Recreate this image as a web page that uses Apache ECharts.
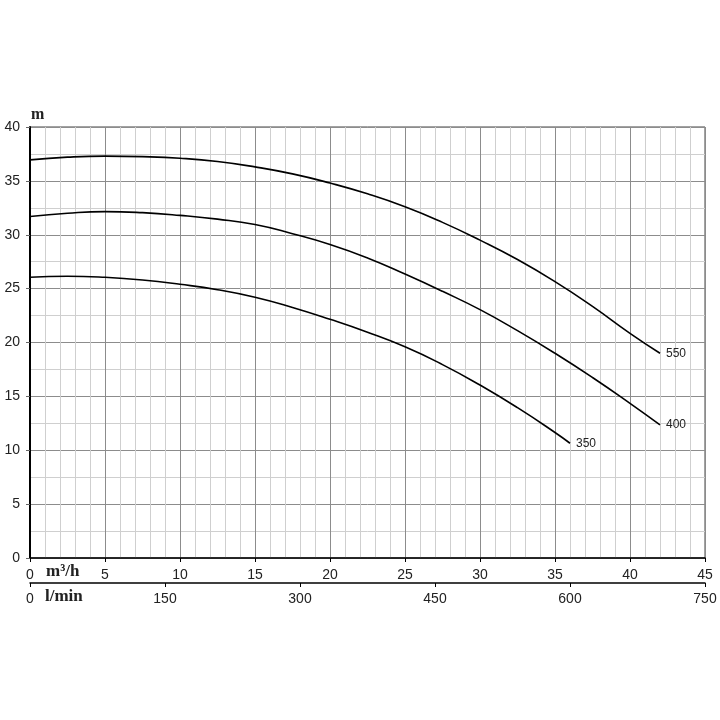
<!DOCTYPE html>
<html>
<head>
<meta charset="utf-8">
<script src="https://cdn.jsdelivr.net/npm/echarts@6/dist/echarts.min.js"></script>
<style>html,body{margin:0;padding:0;background:#fff}#c{width:720px;height:720px}</style>
</head>
<body>
<div id="c"></div>
<script>
var flow550 = [0, 2.5, 5, 7.5, 10, 12.5, 15, 17.5, 20, 22.5, 25, 27.5, 30, 32.5, 35, 37.5, 40, 42];
var head550 = [36.95, 37.2, 37.3, 37.25, 37.1, 36.8, 36.3, 35.65, 34.8, 33.8, 32.6, 31.15, 29.5, 27.7, 25.65, 23.35, 20.85, 19.0];
var flow400 = [0, 2.5, 5, 7.5, 10, 12.5, 15, 17.5, 20, 22.5, 25, 27.5, 30, 32.5, 35, 37.5, 40, 42];
var head400 = [31.7, 32.0, 32.15, 32.05, 31.8, 31.45, 30.95, 30.1, 29.1, 27.85, 26.35, 24.75, 23.05, 21.1, 19.0, 16.75, 14.35, 12.35];
var flow350 = [0, 2.5, 5, 7.5, 10, 12.5, 15, 17.5, 20, 22.5, 25, 27.5, 30, 32.5, 35, 36];
var head350 = [26.05, 26.15, 26.05, 25.8, 25.4, 24.9, 24.2, 23.25, 22.15, 20.95, 19.6, 17.95, 16.05, 13.95, 11.65, 10.65];
var seriesNames = ['550', '400', '350'];
var xTicksM3h = [0, 5, 10, 15, 20, 25, 30, 35, 40, 45];
var xTicksLmin = [0, 150, 300, 450, 600, 750];
var yTicks = [0, 5, 10, 15, 20, 25, 30, 35, 40];

function pairs(xs, ys) { return xs.map(function (x, i) { return [x, ys[i]]; }); }

var chart = echarts.init(document.getElementById('c'), null, { renderer: 'canvas' });
var labelFont = { fontFamily: 'Liberation Sans, Arial, sans-serif', fontSize: 14, color: '#222' };
var MAJOR = '#8c8c8c', MINOR = '#cfcfcf';
function mkSeries(name, xs, ys) {
  return {
    name: name, type: 'line', xAxisIndex: 0, yAxisIndex: 0,
    data: pairs(xs, ys), smooth: 0.5, showSymbol: false, symbol: 'none',
    lineStyle: { color: '#000', width: 1.6 },
    endLabel: { show: true, formatter: '{a}', distance: 6, fontFamily: 'Liberation Sans, Arial, sans-serif', fontSize: 12, color: '#222' },
    emphasis: { disabled: true }, animation: false
  };
}
var hidden = { axisLine: { show: false }, axisLabel: { show: false }, splitLine: { show: false } };
chart.setOption({
  animation: false,
  backgroundColor: '#fff',
  grid: { left: 30, right: 15, top: 127, bottom: 162, show: true, borderColor: '#444', borderWidth: 1, containLabel: false },
  xAxis: [
    {
      type: 'value', min: 0, max: 45, interval: 1, position: 'bottom',
      axisLine: { show: true, onZero: false, lineStyle: { color: '#000', width: 1.5 } },
      axisTick: { show: false },
      axisLabel: Object.assign({ margin: 10, customValues: xTicksM3h }, labelFont),
      splitLine: { show: true, showMinLine: true, showMaxLine: true, lineStyle: { color: [MAJOR, MINOR, MINOR, MINOR, MINOR], width: 1 } }
    },
    {
      type: 'value', min: 0, max: 750, interval: 150, position: 'bottom', offset: 25,
      axisLine: { show: true, onZero: false, lineStyle: { color: '#000', width: 1.5 } },
      axisTick: { show: true, length: 4, lineStyle: { color: '#000' } },
      axisLabel: Object.assign({ margin: 9, customValues: xTicksLmin }, labelFont),
      splitLine: { show: false }
    },
    Object.assign({
      type: 'value', min: 0, max: 45, interval: 5, position: 'bottom',
      axisTick: { show: true, length: 4, lineStyle: { color: '#000' } }
    }, hidden)
  ],
  yAxis: [
    {
      type: 'value', min: 0, max: 40, interval: 2.5,
      axisLine: { show: true, onZero: false, lineStyle: { color: '#000', width: 2 } },
      axisTick: { show: false },
      axisLabel: Object.assign({ margin: 10, customValues: yTicks }, labelFont),
      splitLine: { show: true, showMinLine: true, showMaxLine: true, lineStyle: { color: [MAJOR, MINOR], width: 1 } }
    },
    Object.assign({
      type: 'value', min: 0, max: 40, interval: 5, position: 'left',
      axisTick: { show: true, length: 4, lineStyle: { color: '#666' } }
    }, hidden)
  ],
  graphic: [
    { type: 'text', left: 31, top: 107, style: { text: 'm', font: 'bold 16px "Liberation Serif", serif', fill: '#222' } },
    { type: 'text', left: 46, top: 563, style: { text: 'm³/h', font: 'bold 17px "Liberation Serif", serif', fill: '#222' } },
    { type: 'text', left: 45, top: 588, style: { text: 'l/min', font: 'bold 17px "Liberation Serif", serif', fill: '#222' } }
  ],
  series: [
    mkSeries(seriesNames[0], flow550, head550),
    mkSeries(seriesNames[1], flow400, head400),
    mkSeries(seriesNames[2], flow350, head350)
  ]
});
</script>
</body>
</html>
